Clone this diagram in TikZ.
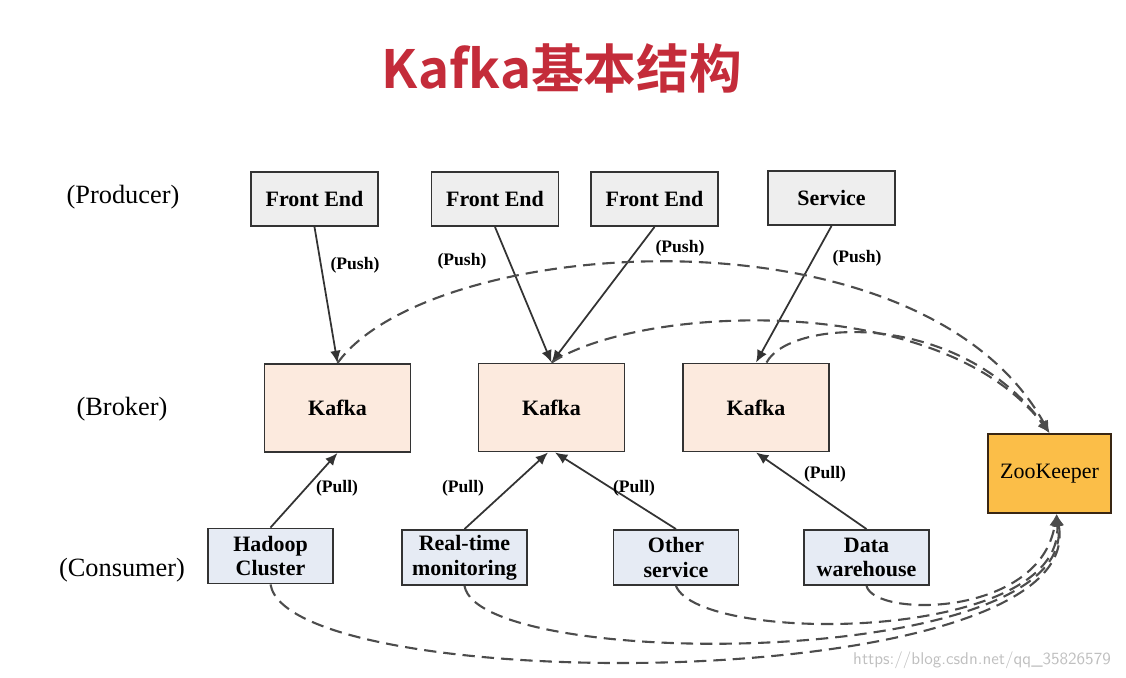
\documentclass[tikz,border=0pt]{standalone}
\usepackage{fontspec}
\setmainfont{Liberation Serif}
\newfontfamily\titlefont{Noto Sans CJK SC}[BoldFont={* Bold}]
\usepackage{tikz}
\usetikzlibrary{positioning, arrows.meta, calc}

\definecolor{titlered}{RGB}{196,44,58}
\definecolor{prodfill}{RGB}{238,238,238}
\definecolor{brokerfill}{RGB}{252,234,222}
\definecolor{consfill}{RGB}{230,235,244}
\definecolor{zkfill}{RGB}{251,190,72}

\tikzset{
  box/.style={draw=black!80, line width=1.1pt, inner sep=0pt, align=center,
    font=\fontsize{12.5}{14}\selectfont\bfseries},
  prodbox/.style={box, fill=prodfill, minimum width=2.54cm, minimum height=1.08cm},
  brokerbox/.style={box, fill=brokerfill, minimum width=2.92cm, minimum height=1.76cm},
  consbox/.style={box, fill=consfill, minimum width=2.5cm, minimum height=1.1cm},
  zkbox/.style={box, fill=zkfill, draw=black!70!brown, minimum width=2.46cm, minimum height=1.58cm,
    font=\fontsize{12.5}{14}\selectfont},
  rowlbl/.style={font=\fontsize{15}{17}\selectfont},
  lbl/.style={font=\fontsize{10}{12}\selectfont\bfseries},
  flow/.style={-{Latex[length=7pt,width=6pt]}, line width=1pt, black!80},
  zkline/.style={-{Latex[length=7pt,width=6pt]}, line width=1.2pt, black!70, dash pattern=on 7pt off 4pt}
}

\begin{document}
\begin{tikzpicture}[x=0.02cm, y=-0.02cm]
  \useasboundingbox (0,0) rectangle (1126,677);

  % title
  \node[font=\titlefont\fontsize{30}{34}\selectfont\bfseries, text=titlered] (title) at (562,68) {Kafka基本结构};

  % row captions
  \node[rowlbl] (producer) at (123,197) {(Producer)};
  \node[rowlbl] (broker) at (122,409) {(Broker)};
  \node[rowlbl] (consumer) at (122,570) {(Consumer)};

  % producers
  \node[prodbox] (fe1) at (314.5,199) {Front End};
  \node[prodbox] (fe2) at (495,199) {Front End};
  \node[prodbox] (fe3) at (654.5,199) {Front End};
  \node[prodbox] (svc) at (831.5,198) {Service};

  % brokers
  \node[brokerbox] (k1) at (337.5,408) {Kafka};
  \node[brokerbox] (k2) at (551.5,407.5) {Kafka};
  \node[brokerbox] (k3) at (756,407.5) {Kafka};
  \node[zkbox] (zk) at (1049.5,473.5) {ZooKeeper};

  % consumers
  \node[consbox] (hadoop) at (270.5,556) {Hadoop\\Cluster};
  \node[consbox] (rtm) at (464.5,557.5) {Real-time\\monitoring};
  \node[consbox] (other) at (676,557.5) {Other\\service};
  \node[consbox] (dwh) at (866.5,557.5) {Data\\warehouse};

  % push
  \draw[flow] (fe1.south) -- (k1.north);
  \draw[flow] (fe2.south) -- (k2.north);
  \draw[flow] (fe3.south) -- (k2.north);
  \draw[flow] (svc.south) -- (k3.north);
  \node[lbl] (push1) at (355,265) {(Push)};
  \node[lbl] (push2) at (462,261) {(Push)};
  \node[lbl] (push3) at (680,248) {(Push)};
  \node[lbl] (push4) at (857,258) {(Push)};

  % pull
  \draw[flow] (hadoop.north) -- (k1.south);
  \draw[flow] (rtm.north) -- ([xshift=-2]k2.south);
  \draw[flow] (other.north) -- ([xshift=2]k2.south);
  \draw[flow] (dwh.north) -- (k3.south);
  \node[lbl] (pull1) at (337,488) {(Pull)};
  \node[lbl] (pull2) at (463,488) {(Pull)};
  \node[lbl] (pull3) at (634,488) {(Pull)};
  \node[lbl] (pull4) at (825,474) {(Pull)};

  % zookeeper links
  \draw[zkline] (k1.north) .. controls (430,235) and (920,200) .. (zk.north);
  \draw[zkline] (k2.north) .. controls (640,305) and (940,290) .. (zk.north);
  \draw[zkline] ([xshift=6]k3.north) .. controls (790,318) and (960,310) .. (zk.north);
  \draw[zkline] (dwh.south) .. controls (875,618) and (1040,617) .. ([xshift=4]zk.south);
  \draw[zkline] (other.south) .. controls (700,645) and (1065,643) .. ([xshift=4]zk.south);
  \draw[zkline] (rtm.south) .. controls (480,672) and (1080,670) .. ([xshift=4]zk.south);
  \draw[zkline] (hadoop.south) .. controls (290,698) and (1092,697) .. ([xshift=4]zk.south);

  % watermark
  \node[font=\fontfamily{lmss}\fontsize{9.7}{12}\selectfont, text=black!25, anchor=east] (mark) at (1117,660) {https://blog.csdn.net/qq\_35826579};
\end{tikzpicture}
\end{document}
